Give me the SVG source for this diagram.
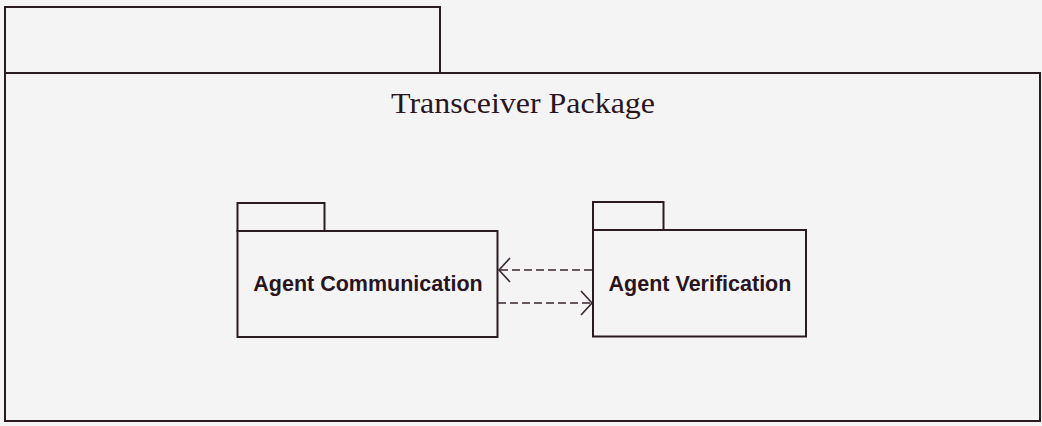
<svg xmlns="http://www.w3.org/2000/svg" width="1042" height="426" viewBox="0 0 1042 426">
  <style>
    .pkg { fill: none; stroke: #2a1a22; stroke-width: 2; }
    .title { font-family: "Liberation Serif", "Times New Roman", serif; font-size: 29.5px; fill: #2a1420; }
    .name { font-family: "Liberation Sans", Arial, sans-serif; font-weight: bold; font-size: 21.5px; fill: #2a1420; }
    .dep { fill: none; stroke: #3a2530; stroke-width: 1.6; stroke-dasharray: 8 4; }
    .head { fill: none; stroke: #3a2530; stroke-width: 1.6; }
  </style>
  <rect width="1042" height="426" fill="#f4f4f4"/>

  <!-- outer package: tab and body -->
  <g id="transceiver-package">
    <rect class="pkg" x="5" y="7" width="435" height="66"/>
    <rect class="pkg" x="5" y="73" width="1035" height="348"/>
    <text class="title" x="523" y="113" text-anchor="middle" textLength="264" lengthAdjust="spacingAndGlyphs">Transceiver Package</text>
  </g>

  <g id="agent-communication">
    <rect class="pkg" x="237.5" y="203" width="87" height="28"/>
    <rect class="pkg" x="237.5" y="231" width="260" height="106"/>
    <text class="name" x="368" y="290.5" text-anchor="middle">Agent Communication</text>
  </g>

  <g id="agent-verification">
    <rect class="pkg" x="593" y="202" width="70.5" height="28"/>
    <rect class="pkg" x="593" y="230" width="213" height="106.5"/>
    <text class="name" x="700" y="290.5" text-anchor="middle">Agent Verification</text>
  </g>

  <!-- dependencies between the two inner packages -->
  <g id="connectors">
    <line class="dep" x1="592" y1="270" x2="499" y2="270"/>
    <polyline class="head" points="510,258 499,270 510,282"/>
    <line class="dep" x1="498" y1="303" x2="591" y2="303"/>
    <polyline class="head" points="581,291 592,303 581,315"/>
  </g>
</svg>
